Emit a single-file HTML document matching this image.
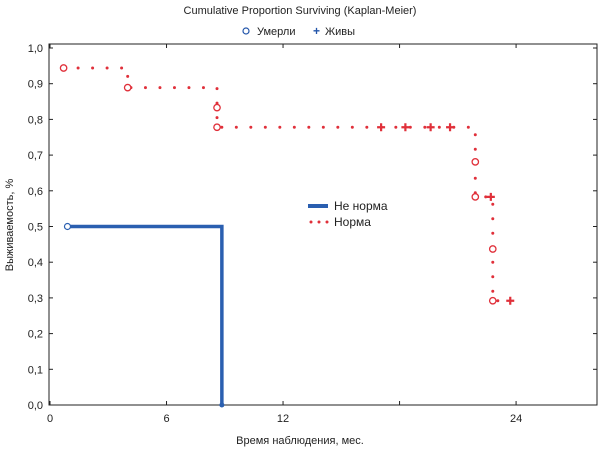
<!DOCTYPE html>
<html><head><meta charset="utf-8">
<style>
body{margin:0;background:#fff;width:601px;height:459px;overflow:hidden;font-family:"Liberation Sans","DejaVu Sans",sans-serif}
svg text{font-family:"Liberation Sans","DejaVu Sans",sans-serif}
</style></head>
<body>
<svg id="chart" width="601" height="459">
<text x="300" y="14" text-anchor="middle" font-size="11" fill="#222">Cumulative Proportion Surviving (Kaplan-Meier)</text>
<g>
<circle cx="246" cy="31" r="3" fill="none" stroke="#2255aa" stroke-width="1.2"/>
<text x="257" y="35" font-size="11" fill="#222">Умерли</text>
<text x="313" y="35" font-size="12" fill="#2255aa" font-weight="bold">+</text>
<text x="325" y="35" font-size="11" fill="#222">Живы</text>
</g>
<rect x="49" y="44" width="548" height="361" fill="none" stroke="#222" stroke-width="1"/>
<g id="axes"></g>
<g id="marks"></g>
<g>
<line x1="308" y1="206" x2="328" y2="206" stroke="#2a5fb0" stroke-width="4"/>
<text x="334" y="210" font-size="12" fill="#222">Не норма</text>
<line x1="311" y1="222" x2="328" y2="222" stroke="#e0303a" stroke-width="3" stroke-linecap="round" stroke-dasharray="0 8"/>
<text x="334" y="226" font-size="12" fill="#222">Норма</text>
</g>
<text x="300" y="444" text-anchor="middle" font-size="11" fill="#222">Время наблюдения, мес.</text>
<text transform="translate(13,225) rotate(-90)" text-anchor="middle" font-size="11" fill="#222">Выживаемость, %</text>
</svg>
<script>
const xTicks=[0,6,12,18,24];
const xLabels=["0","6","12","","24"];
const yTicks=[0,0.1,0.2,0.3,0.4,0.5,0.6,0.7,0.8,0.9,1.0];
const normaTimes=[0.7,4.0,8.6,8.6,21.9,21.9,22.8,22.8,23.7];
const normaSurv=[0.944,0.889,0.833,0.778,0.681,0.583,0.437,0.292,0.292];
const normaEvents=[0.7,4.0,8.6,8.6,21.9,21.9,22.8,22.8];
const normaEventSurv=[0.944,0.889,0.833,0.778,0.681,0.583,0.437,0.292];
const normaCensT=[17.05,18.3,19.6,20.6,22.7,23.7];
const normaCensS=[0.778,0.778,0.778,0.778,0.583,0.292];
const neTimes=[0.9,8.85,8.85];
const neSurv=[0.5,0.5,0];
const NS="http://www.w3.org/2000/svg";
const X=t=>50+t*19.42, Y=s=>405-s*357;
const ax=document.getElementById('axes'), mk=document.getElementById('marks');
function el(tag,a,p){const e=document.createElementNS(NS,tag);for(const k in a)e.setAttribute(k,a[k]);p.appendChild(e);return e;}
xTicks.forEach((t,i)=>{
 const l=el('line',{x1:X(t),x2:X(t),y1:405,y2:401,stroke:'#222'},ax);
 
 
 el('line',{x1:X(t),x2:X(t),y1:44,y2:48,stroke:'#222'},ax);
 if(xLabels[i]){const tx=el('text',{x:X(t),y:422,'text-anchor':'middle','font-size':11,fill:'#222'},ax);tx.textContent=xLabels[i];
 
 }
});
yTicks.forEach(s=>{
 el('line',{x1:49,x2:53,y1:Y(s),y2:Y(s),stroke:'#222'},ax);
 el('line',{x1:597,x2:593,y1:Y(s),y2:Y(s),stroke:'#222'},ax);
 const tx=el('text',{x:43,y:Y(s)+4,'text-anchor':'end','font-size':11,fill:'#222'},ax);tx.textContent=s.toFixed(1).replace('.',',');
 
 
});
let d='';neTimes.forEach((t,i)=>{d+=(i?'L':'M')+X(t)+' '+Y(neSurv[i]);});
const bp=el('path',{d:d,fill:'none',stroke:'#2a5fb0','stroke-width':3.5},mk);


const bc=el('circle',{cx:X(neTimes[0]),cy:Y(neSurv[0]),r:3,fill:'#fff',stroke:'#2a5fb0','stroke-width':1.2},mk);


el('circle',{cx:X(neTimes[2]),cy:Y(0),r:2.5,fill:'#2a5fb0'},mk);
d='M'+X(normaTimes[0])+' '+Y(normaSurv[0]);
for(let i=1;i<normaTimes.length;i++){d+='L'+X(normaTimes[i])+' '+Y(normaSurv[i-1])+'L'+X(normaTimes[i])+' '+Y(normaSurv[i]);}
const rp=el('path',{d:d,fill:'none',stroke:'#e0303a','stroke-width':3,'stroke-linecap':'round','stroke-dasharray':'0 14.5'},mk);


normaEvents.forEach((t,i)=>{
 const c=el('circle',{cx:X(t),cy:Y(normaEventSurv[i]),r:3.2,fill:'#fff',stroke:'#e0303a','stroke-width':1.3},mk);
 
 
});
normaCensT.forEach((t,i)=>{
 const g=el('path',{d:`M${X(t)-4} ${Y(normaCensS[i])}h8M${X(t)} ${Y(normaCensS[i])-4}v8`,stroke:'#e0303a','stroke-width':2.2},mk);
 
 
});
</script>
</body></html>
